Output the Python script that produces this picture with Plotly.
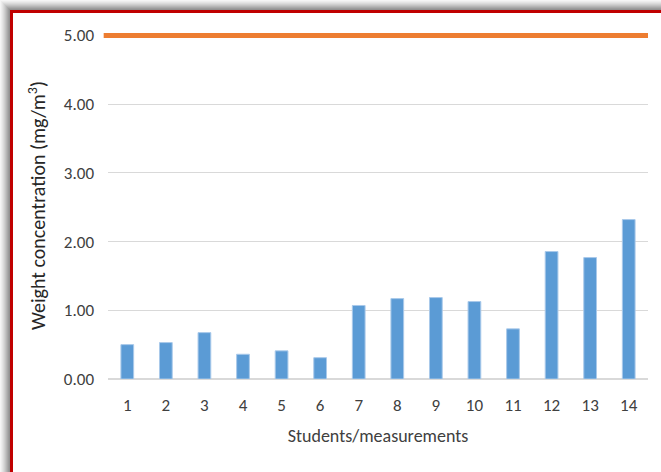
import plotly.graph_objects as go

# Measurement data
students = [str(i) for i in range(1, 15)]
concentration = [0.50, 0.53, 0.675, 0.36, 0.41, 0.31, 1.07, 1.17, 1.185, 1.127, 0.73, 1.855, 1.767, 2.32]
limit_value = 5.00
y_ticks = [0, 1, 2, 3, 4, 5]
y_tick_labels = ["0.00", "1.00", "2.00", "3.00", "4.00", "5.00"]

FONT = "Carlito, 'Liberation Sans Narrow', 'Open Sans', sans-serif"
TEXT = "#404040"

W, H = 661, 472
ML, MR, MT, MB = 108, 13, 32, 93
PW, PH = W - ML - MR, H - MT - MB


def px_x(p):
    return (p - ML) / PW


def px_y(p):
    return (H - MB - p) / PH


fig = go.Figure()
fig.add_trace(go.Bar(
    x=students, y=concentration,
    marker=dict(color="#5B9BD5", line=dict(color="#A9C9EA", width=1)),
    width=0.33, showlegend=False, hoverinfo="x+y",
))

# limit line across the plot
fig.add_hline(y=limit_value, line=dict(color="#ED7D31", width=5), layer="above",
              x0=-0.008, x1=1)

shapes = []
# drop shadow around the frame
shadow_cols = ["#f5f5f5", "#ededed", "#e4e4e4", "#dadada", "#cfcfcf",
               "#c3c3c3", "#b6b6b6", "#a9a9a9", "#9c9c9c", "#919191"]
for i, c in enumerate(shadow_cols):
    shapes.append(dict(type="rect", xref="paper", yref="paper",
                       x0=px_x(i), x1=px_x(i + 1), y0=px_y(H), y1=px_y(i),
                       fillcolor=c, line=dict(width=0), layer="below"))
    shapes.append(dict(type="rect", xref="paper", yref="paper",
                       x0=px_x(i), x1=px_x(W), y0=px_y(i + 1), y1=px_y(i),
                       fillcolor=c, line=dict(width=0), layer="below"))
# red frame (left and top edges)
shapes.append(dict(type="line", xref="paper", yref="paper",
                   x0=px_x(11.5), x1=px_x(11.5), y0=px_y(H + 2), y1=px_y(10),
                   line=dict(color="#C00000", width=3)))
shapes.append(dict(type="line", xref="paper", yref="paper",
                   x0=px_x(10), x1=px_x(W + 2), y0=px_y(11.5), y1=px_y(11.5),
                   line=dict(color="#C00000", width=3)))

fig.update_layout(
    width=W, height=H,
    margin=dict(l=ML, r=MR, t=MT, b=MB),
    paper_bgcolor="white", plot_bgcolor="white",
    font=dict(family=FONT, color=TEXT, size=17),
    bargap=0.67,
    shapes=list(fig.layout.shapes) + shapes,
    xaxis=dict(
        title=dict(text="Students/measurements", font=dict(size=18, color=TEXT), standoff=14),
        tickfont=dict(size=17, color=TEXT),
        showgrid=False, showline=False, ticks="",
        ticklabelstandoff=14,
    ),
    yaxis=dict(
        title=dict(text="Weight concentration (mg/m<sup>3</sup>)", font=dict(size=20, color="#262626"), standoff=12),
        range=[0, 5.05],
        tickvals=y_ticks, ticktext=y_tick_labels,
        tickfont=dict(size=17, color=TEXT),
        showgrid=True, gridcolor="#D9D9D9", gridwidth=1,
        zeroline=True, zerolinecolor="#D9D9D9", zerolinewidth=2,
        showline=False, ticks="",
        ticklabelstandoff=13,
    ),
)

fig.write_html("out.html")
